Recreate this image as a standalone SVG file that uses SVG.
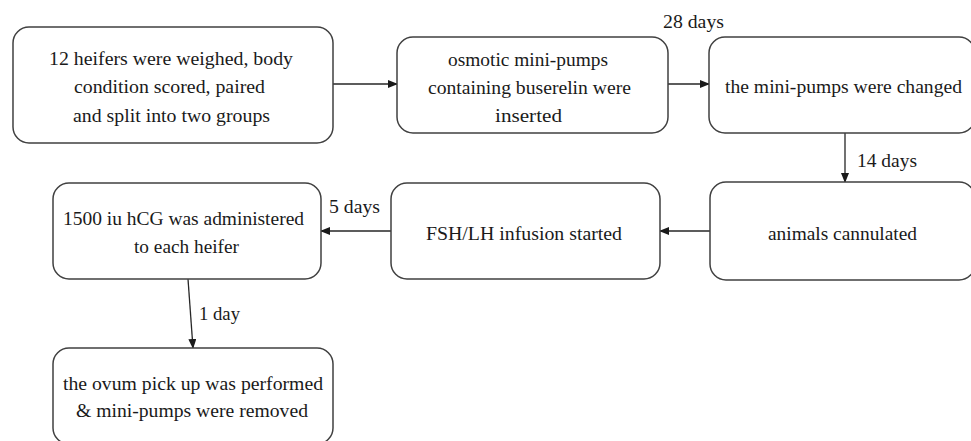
<svg xmlns="http://www.w3.org/2000/svg" width="971" height="441" viewBox="0 0 971 441">
<style>
.box{fill:#fff;stroke:#404040;stroke-width:1.5}
text{font-family:'Liberation Serif','Times New Roman',serif;font-size:19px;fill:#1a1a1a}
.c{stroke:#262626;stroke-width:1.3;fill:none;marker-end:url(#ah)}
</style>
<defs>
<marker id="ah" markerWidth="10" markerHeight="8" refX="9" refY="4" orient="auto" markerUnits="userSpaceOnUse">
<path d="M0,0 L10,4 L0,8 Z" fill="#1a1a1a"/>
</marker>
</defs>
<rect width="971" height="441" fill="#fff"/>
<g id="connectors">
<line class="c" x1="333" y1="84" x2="397" y2="84"/>
<line class="c" x1="668" y1="84" x2="709" y2="84"/>
<line class="c" x1="845" y1="133" x2="845" y2="182"/>
<line class="c" x1="710" y1="231" x2="660" y2="231"/>
<line class="c" x1="391" y1="231" x2="321" y2="231"/>
<line class="c" x1="188" y1="279" x2="193" y2="348"/>
<text x="663" y="28" textLength="61" lengthAdjust="spacingAndGlyphs">28 days</text>
<text x="857" y="167" textLength="60" lengthAdjust="spacingAndGlyphs">14 days</text>
<text x="329" y="213" textLength="51" lengthAdjust="spacingAndGlyphs">5 days</text>
<text x="199" y="320" textLength="41" lengthAdjust="spacingAndGlyphs">1 day</text>
</g>
<g id="n1">
<rect class="box" x="13" y="27" width="320" height="116" rx="16"/>
<text x="49" y="65" textLength="244" lengthAdjust="spacingAndGlyphs">12 heifers were weighed, body</text>
<text x="74" y="93" textLength="191" lengthAdjust="spacingAndGlyphs">condition scored, paired</text>
<text x="73" y="122" textLength="197" lengthAdjust="spacingAndGlyphs">and split into two groups</text>
</g>
<g id="n2">
<rect class="box" x="397" y="37" width="271" height="96" rx="16"/>
<text x="448" y="66" textLength="160" lengthAdjust="spacingAndGlyphs">osmotic mini-pumps</text>
<text x="428" y="94" textLength="203" lengthAdjust="spacingAndGlyphs">containing buserelin were</text>
<text x="495" y="122" textLength="67" lengthAdjust="spacingAndGlyphs">inserted</text>
</g>
<g id="n3">
<rect class="box" x="709" y="37" width="266" height="96" rx="16"/>
<text x="725" y="93" textLength="237" lengthAdjust="spacingAndGlyphs">the mini-pumps were changed</text>
</g>
<g id="n4">
<rect class="box" x="710" y="182" width="265" height="98" rx="16"/>
<text x="768" y="240" textLength="149" lengthAdjust="spacingAndGlyphs">animals cannulated</text>
</g>
<g id="n5">
<rect class="box" x="391" y="183" width="269" height="96" rx="16"/>
<text x="426" y="240" textLength="196" lengthAdjust="spacingAndGlyphs">FSH/LH infusion started</text>
</g>
<g id="n6">
<rect class="box" x="53" y="183" width="268" height="96" rx="16"/>
<text x="63" y="225" textLength="241" lengthAdjust="spacingAndGlyphs">1500 iu hCG was administered</text>
<text x="134" y="253" textLength="105" lengthAdjust="spacingAndGlyphs">to each heifer</text>
</g>
<g id="n7">
<rect class="box" x="53" y="348" width="280" height="96" rx="16"/>
<text x="63" y="390" textLength="260" lengthAdjust="spacingAndGlyphs">the ovum pick up was performed</text>
<text x="76" y="417" textLength="232" lengthAdjust="spacingAndGlyphs">&amp; mini-pumps were removed</text>
</g>
</svg>
